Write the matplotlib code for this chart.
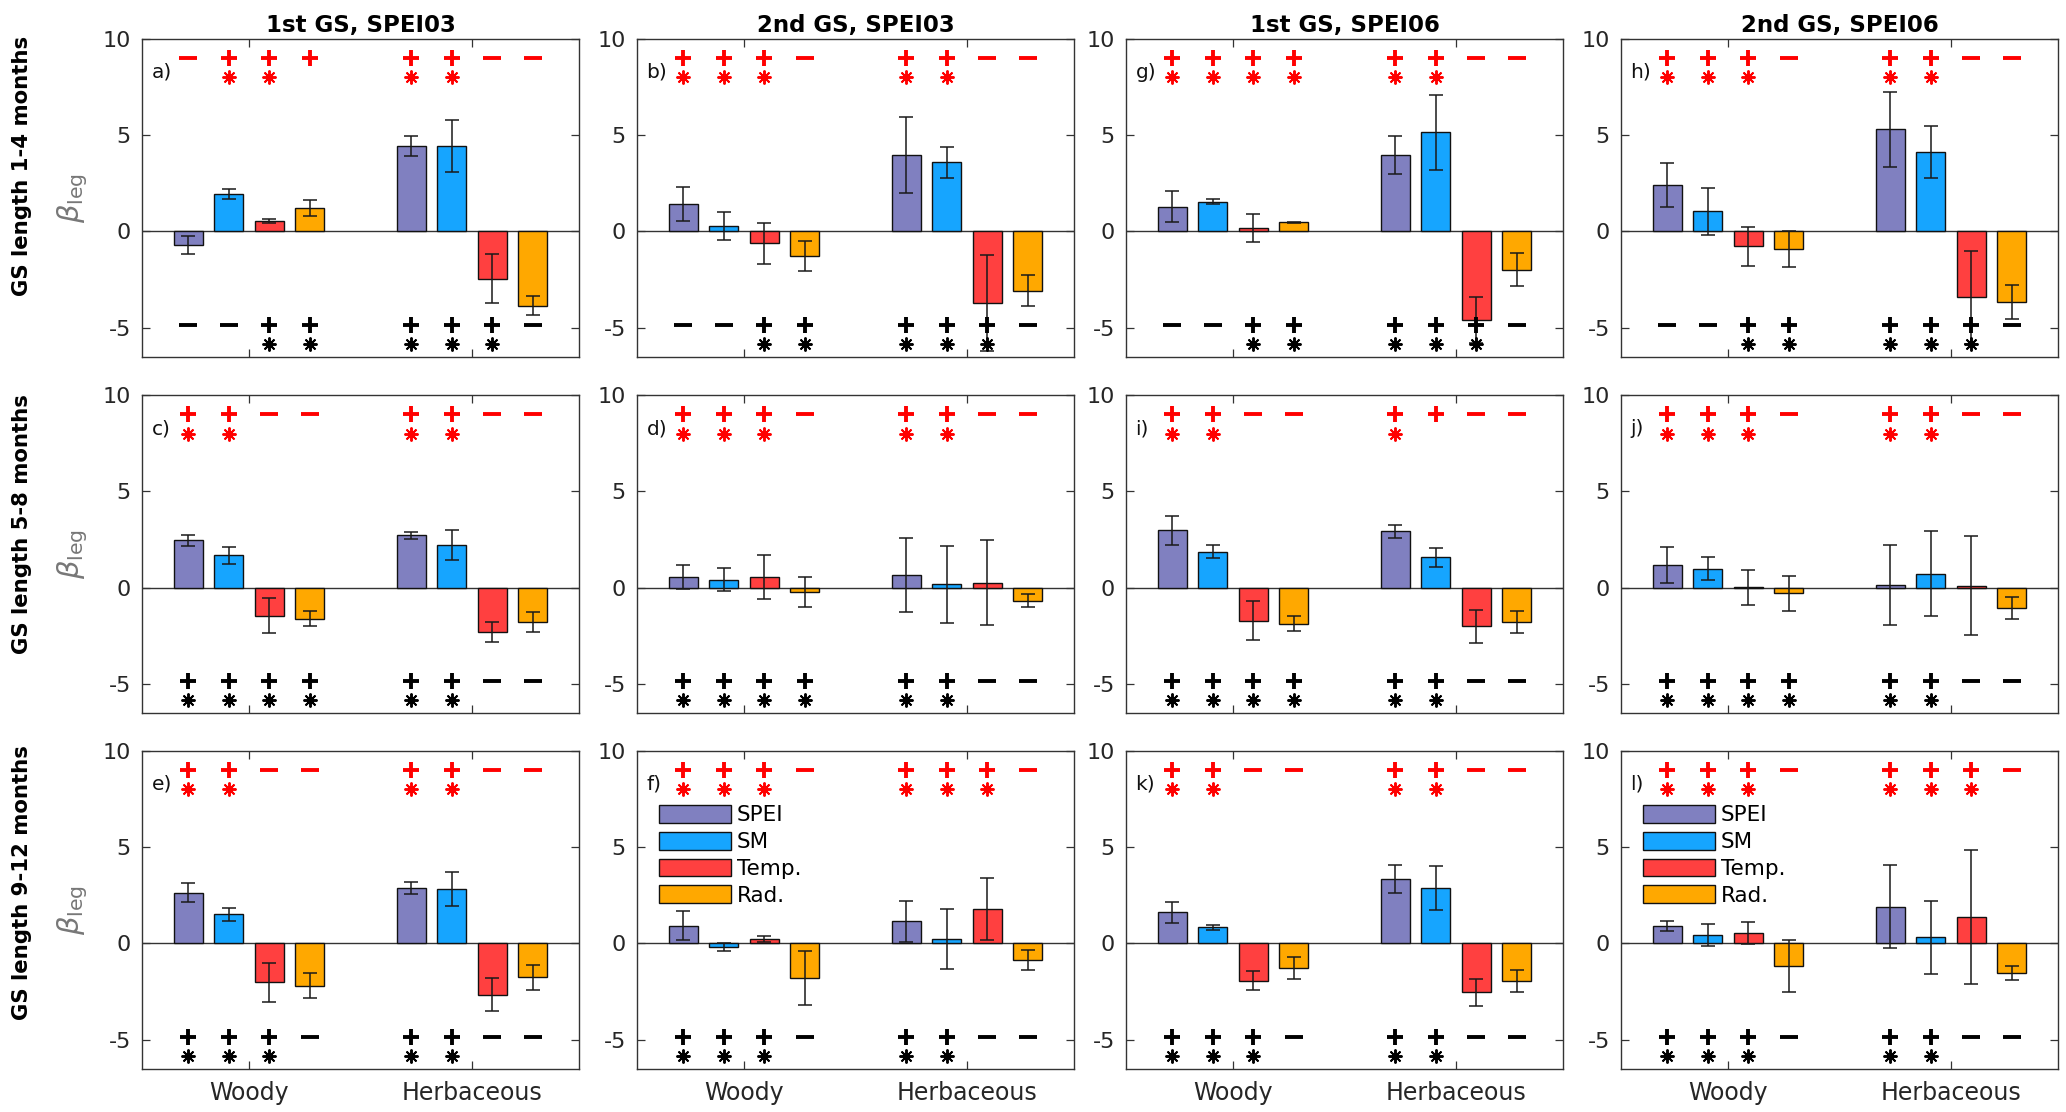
import numpy as np
import matplotlib
matplotlib.use("Agg")
import matplotlib.pyplot as plt
from matplotlib.patches import Patch

plt.rcParams["font.family"] = "DejaVu Sans"
plt.rcParams["axes.unicode_minus"] = False

# ---------------------------------------------------------------- data
drivers = ["SPEI", "SM", "Temp.", "Rad."]
driver_colors = ["#8080C0", "#16A5FF", "#FF4040", "#FFA800"]
groups = ["Woody", "Herbaceous"]
col_titles = ["1st GS, SPEI03", "2nd GS, SPEI03", "1st GS, SPEI06", "2nd GS, SPEI06"]
row_titles = ["GS length 1-4 months", "GS length 5-8 months", "GS length 9-12 months"]
panel_letters = ["a)", "b)", "g)", "h)",
                 "c)", "d)", "i)", "j)",
                 "e)", "f)", "k)", "l)"]

# beta_leg per panel (row-major): SPEI, SM, Temp, Rad for Woody, then Herbaceous
beta = [
    [-0.71, 1.96, 0.54, 1.23, 4.44, 4.44, -2.46, -3.85],   # a
    [1.44, 0.28, -0.61, -1.28, 3.99, 3.59, -3.74, -3.08],  # b
    [1.28, 1.54, 0.17, 0.47, 3.97, 5.15, -4.61, -1.99],    # g
    [2.43, 1.06, -0.78, -0.92, 5.30, 4.11, -3.43, -3.69],  # h
    [2.45, 1.67, -1.46, -1.62, 2.71, 2.21, -2.30, -1.79],  # c
    [0.54, 0.42, 0.55, -0.22, 0.66, 0.17, 0.26, -0.67],    # d
    [2.99, 1.87, -1.71, -1.87, 2.92, 1.57, -2.02, -1.78],  # i
    [1.16, 0.99, 0.02, -0.30, 0.14, 0.73, 0.10, -1.06],    # j
    [2.63, 1.51, -2.03, -2.19, 2.87, 2.83, -2.66, -1.77],  # e
    [0.93, -0.17, 0.22, -1.81, 1.14, 0.24, 1.79, -0.86],   # f
    [1.62, 0.84, -1.93, -1.28, 3.34, 2.88, -2.55, -1.93],  # k
    [0.90, 0.43, 0.53, -1.17, 1.91, 0.31, 1.38, -1.52],    # l
]
beta_err = [
    [0.45, 0.25, 0.09, 0.42, 0.51, 1.37, 1.27, 0.51],
    [0.88, 0.74, 1.07, 0.76, 1.97, 0.80, 2.50, 0.80],
    [0.80, 0.12, 0.71, 0.03, 0.98, 1.94, 1.21, 0.87],
    [1.14, 1.22, 1.00, 0.92, 1.96, 1.35, 2.40, 0.88],
    [0.29, 0.43, 0.91, 0.40, 0.18, 0.79, 0.50, 0.52],
    [0.62, 0.62, 1.16, 0.78, 1.94, 2.00, 2.20, 0.36],
    [0.75, 0.35, 0.99, 0.40, 0.33, 0.48, 0.87, 0.57],
    [0.93, 0.58, 0.90, 0.91, 2.10, 2.23, 2.56, 0.59],
    [0.50, 0.33, 1.00, 0.64, 0.30, 0.87, 0.87, 0.67],
    [0.74, 0.21, 0.14, 1.41, 1.09, 1.56, 1.62, 0.50],
    [0.55, 0.14, 0.51, 0.58, 0.74, 1.12, 0.71, 0.57],
    [0.25, 0.58, 0.57, 1.36, 2.15, 1.90, 3.47, 0.37],
]

# sign of the effect and significance flags ('*' = significant)
red_sign = ["-+++++--", "+++-++--", "++++++--", "+++-++--",
            "++--++--", "+++-++--", "++--++--", "+++-++--",
            "++--++--", "+++-+++-", "++--++--", "+++-+++-"]
red_star = [".**.**..", "***.**..", "******..", "***.**..",
            "**..**..", "***.**..", "**..*...", "***.**..",
            "**..**..", "***.***.", "**..**..", "***.***."]
black_sign = ["--+++++-", "--+++++-", "--+++++-", "--+++++-",
              "++++++--", "++++++--", "++++++--", "++++++--",
              "+++-++--", "+++-++--", "+++-++--", "+++-++--"]
black_star = ["..*****.", "..*****.", "..*****.", "..*****.",
              "******..", "******..", "******..", "******..",
              "***.**..", "***.**..", "***.**..", "***.**.."]

# ---------------------------------------------------------------- layout
W, H = 2066, 1112
fig = plt.figure(figsize=(W / 100, H / 100), dpi=100, facecolor="white")

col_left = [142, 637, 1126, 1621]
row_bottom = [356.5, 712.7, 1068.5]
ax_w, ax_h = 437, 317.5
# vertical centre of each row label, as a fraction of the axes height from its top
row_label_frac = [0.40, 0.405, 0.415]

offsets = np.array([-0.272, -0.091, 0.091, 0.272])
xpos = np.concatenate([1 + offsets, 2 + offsets])
bar_w = 0.128
axis_col = "#333333"


def draw_signs(ax, signs, stars, y_sign, y_star, color):
    for x, s, st in zip(xpos, signs, stars):
        if s == "+":
            ax.plot(x, y_sign, marker="+", ms=11, mew=2.8, color=color,
                    zorder=5, clip_on=False)
        elif s == "-":
            ax.plot(x, y_sign, marker="_", ms=13.5, mew=2.8, color=color,
                    zorder=5, clip_on=False)
        if st == "*":
            ax.plot(x, y_star, marker=(8, 2, 0), ms=10, mew=1.4, color=color,
                    zorder=5, clip_on=False)


for r in range(3):
    for c in range(4):
        k = r * 4 + c
        ax = fig.add_axes([col_left[c] / W, 1 - row_bottom[r] / H,
                           ax_w / W, ax_h / H])
        vals = np.array(beta[k])
        errs = np.array(beta_err[k])
        ax.bar(xpos, vals, width=bar_w, color=driver_colors * 2,
               edgecolor="#111111", linewidth=1.0, zorder=2)
        ax.errorbar(xpos, vals, yerr=errs, fmt="none", ecolor="#1a1a1a",
                    elinewidth=1.1, capsize=5, capthick=1.1, zorder=3)
        ax.axhline(0, color="#333333", lw=1.0, zorder=1)

        draw_signs(ax, red_sign[k], red_star[k], 9.0, 8.0, "#FF0000")
        draw_signs(ax, black_sign[k], black_star[k], -4.85, -5.85, "#000000")

        ax.set_xlim(0.52, 2.48)
        ax.set_ylim(-6.5, 10)
        ax.set_yticks([-5, 0, 5, 10])
        ax.set_xticks([1, 2])
        if r == 2:
            ax.set_xticklabels(groups)
        else:
            ax.set_xticklabels([])
        ax.tick_params(direction="in", top=True, right=True, length=6,
                       width=0.9, color=axis_col, labelsize=16,
                       labelcolor="#262626", pad=8)
        ax.tick_params(axis="x", labelsize=17, pad=9)
        for sp in ax.spines.values():
            sp.set_color(axis_col)
            sp.set_linewidth(1.0)

        ax.text(0.022, 0.895, panel_letters[k], transform=ax.transAxes,
                fontsize=14.5, ha="left", va="center", color="#111111")

        if r == 0:
            ax.set_title(col_titles[c], fontsize=16.5, fontweight="bold",
                         pad=5)
        if (r == 2) and (c in (1, 3)):
            handles = [Patch(facecolor=col, edgecolor="#111111", lw=1.0,
                             label=lab)
                       for col, lab in zip(driver_colors, drivers)]
            ax.legend(handles=handles, loc="upper left",
                      bbox_to_anchor=(0.05, 0.83), frameon=False,
                      fontsize=15.5, handlelength=3.35, handleheight=0.9,
                      handletextpad=0.27, labelspacing=0.3, borderpad=0,
                      borderaxespad=0)

    top = row_bottom[r] - ax_h
    yc_label = 1 - (top + row_label_frac[r] * ax_h) / H
    yc_axes = 1 - (row_bottom[r] - ax_h / 2) / H
    fig.text(22 / W, yc_label, row_titles[r], rotation=90, fontsize=15.3,
             fontweight="bold", ha="center", va="center")
    fig.text(73 / W, yc_axes, r"$\beta_{\mathrm{leg}}$", rotation=90,
             fontsize=21, color="#777777", ha="center", va="center")

fig.savefig("out.png", dpi=100, facecolor="white")
